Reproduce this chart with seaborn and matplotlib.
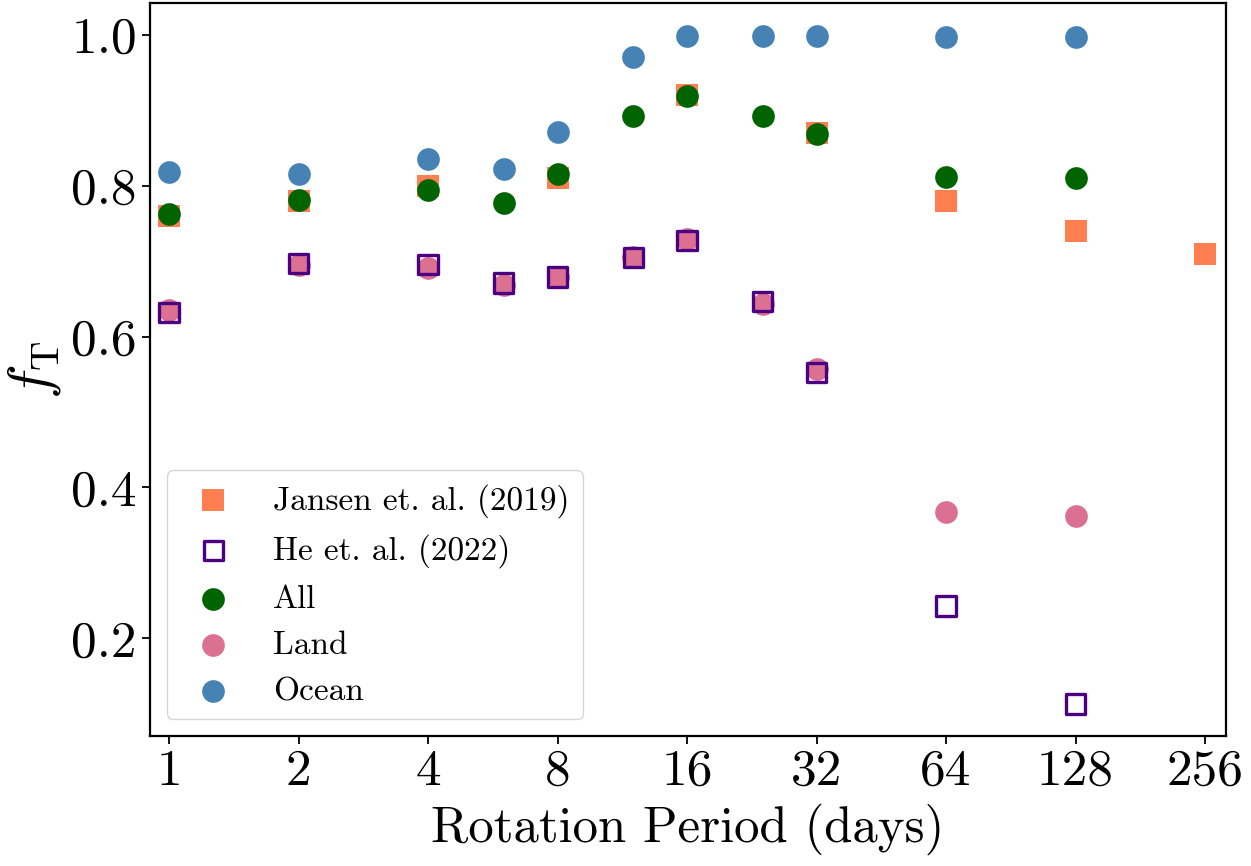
import matplotlib
matplotlib.use("Agg")
import matplotlib.pyplot as plt
import seaborn as sns
import pandas as pd
from matplotlib.ticker import FixedLocator, FixedFormatter, NullLocator

# ---- data ----
x_jansen = [1, 2, 4, 8, 16, 32, 64, 128, 256]
jansen = [0.76, 0.78, 0.80, 0.81, 0.92, 0.87, 0.78, 0.74, 0.71]

x_sim = [1, 2, 4, 6, 8, 12, 16, 24, 32, 64, 128]
he = [0.632, 0.697, 0.695, 0.671, 0.679, 0.705, 0.727, 0.647, 0.552, 0.243, 0.113]
all_vals = [0.763, 0.781, 0.794, 0.777, 0.815, 0.893, 0.919, 0.893, 0.868, 0.812, 0.810]
land = [0.635, 0.695, 0.691, 0.668, 0.679, 0.705, 0.729, 0.643, 0.557, 0.367, 0.362]
ocean = [0.818, 0.815, 0.836, 0.822, 0.871, 0.971, 0.998, 0.998, 0.998, 0.997, 0.997]

xticks = [1, 2, 4, 8, 16, 32, 64, 128, 256]
xtick_labels = ["1", "2", "4", "8", "16", "32", "64", "128", "256"]

# ---- style ----
sns.set_style("ticks")
plt.rcParams["font.family"] = ["cmr10", "DejaVu Serif"]
plt.rcParams["mathtext.fontset"] = "cm"
plt.rcParams["axes.formatter.use_mathtext"] = True
plt.rcParams["axes.unicode_minus"] = False
plt.rcParams["text.color"] = "black"
plt.rcParams["axes.labelcolor"] = "black"
plt.rcParams["xtick.color"] = "black"
plt.rcParams["ytick.color"] = "black"

fig = plt.figure(figsize=(12.51, 8.66), dpi=100)
ax = fig.add_axes([0.1199, 0.150, 0.8599, 0.846])

S = 267
df_j = pd.DataFrame({"x": x_jansen, "y": jansen})
df_s = pd.DataFrame({"x": x_sim, "he": he, "all": all_vals, "land": land, "ocean": ocean})

sns.scatterplot(data=df_j, x="x", y="y", ax=ax, marker="s", s=S, color="coral",
                linewidth=0, label="Jansen et. al. (2019)", zorder=2)
sns.scatterplot(data=df_s, x="x", y="he", ax=ax, marker="s", s=190, facecolor="none",
                edgecolor="indigo", linewidth=2.4, label="He et. al. (2022)", zorder=5)
sns.scatterplot(data=df_s, x="x", y="all", ax=ax, marker="o", s=S, color="darkgreen",
                linewidth=0, label="All", zorder=3)
sns.scatterplot(data=df_s, x="x", y="land", ax=ax, marker="o", s=S, color="palevioletred",
                linewidth=0, label="Land", zorder=3)
sns.scatterplot(data=df_s, x="x", y="ocean", ax=ax, marker="o", s=S, color="steelblue",
                linewidth=0, label="Ocean", zorder=3)

ax.set_xscale("log", base=2)
ax.set_xlim(0.903, 286)
ax.set_ylim(0.0705, 1.0415)
ax.xaxis.set_major_locator(FixedLocator(xticks))
ax.xaxis.set_major_formatter(FixedFormatter(xtick_labels))
ax.xaxis.set_minor_locator(NullLocator())
ax.set_yticks([0.2, 0.4, 0.6, 0.8, 1.0])
ax.set_yticklabels(["0.2", "0.4", "0.6", "0.8", "1.0"])

ax.tick_params(axis="both", labelsize=37, length=6, width=1.3, direction="out",
               colors="black", labelcolor="black")
for sp in ax.spines.values():
    sp.set_linewidth(1.6)
    sp.set_color("black")
    sp.set_visible(True)

ax.set_xlabel("Rotation Period (days)", fontsize=36.6, labelpad=6, color="black")
ax.set_ylabel(r"$f_{\rm T}$", fontsize=42, labelpad=6, color="black")

leg = ax.legend(loc="lower left", fontsize=24, frameon=True)
leg.get_frame().set_edgecolor("0.8")
for t in leg.get_texts():
    t.set_color("black")

fig.savefig("out.png", dpi=100)
